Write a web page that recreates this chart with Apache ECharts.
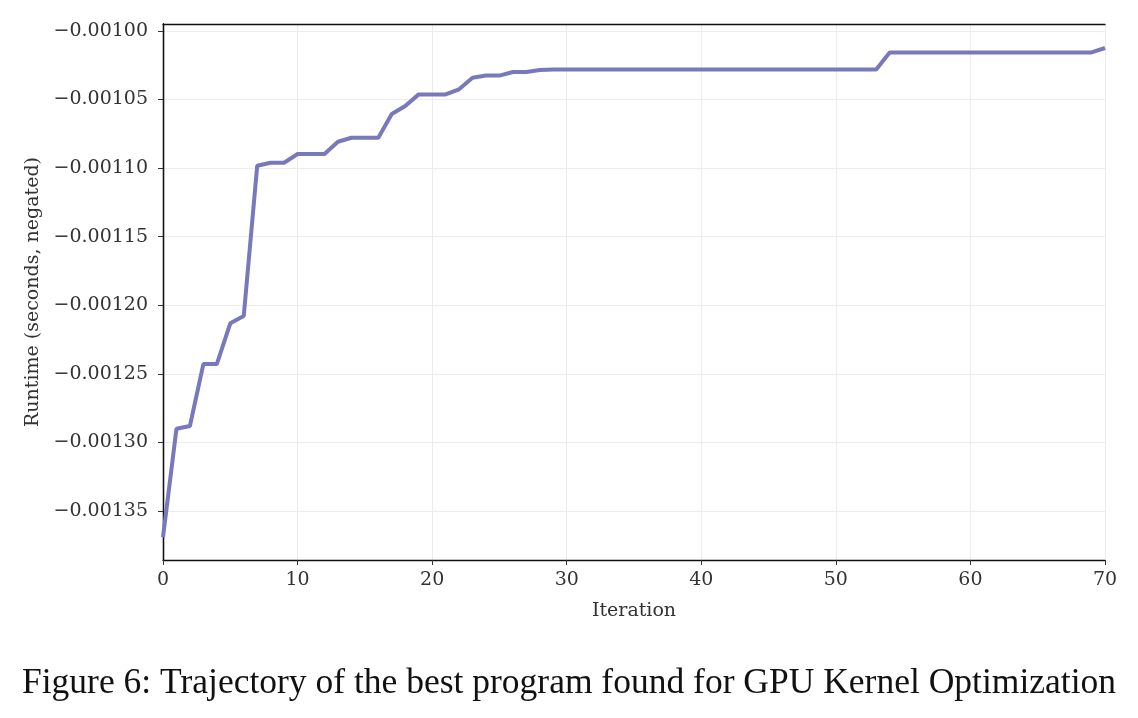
<!DOCTYPE html>
<html>
<head>
<meta charset="utf-8">
<script src="https://cdn.jsdelivr.net/npm/echarts@6/dist/echarts.min.js"></script>
<style>
  html, body { margin: 0; padding: 0; background: #fff; }
  #chart { width: 1138px; height: 718px; }
</style>
</head>
<body>
<div id="chart"></div>
<script>
// iteration index and best runtime found so far (seconds, negated)
const iterations = [];
for (let i = 0; i <= 70; i++) iterations.push(i);

const bestRuntime = [
  -0.0013692, -0.0012900, -0.0012880, -0.0012429, -0.0012429, -0.0012132, -0.0012079, -0.0010983,
  -0.0010961, -0.0010961, -0.0010898, -0.0010898, -0.0010898, -0.0010808, -0.0010779, -0.0010779,
  -0.0010779, -0.0010606, -0.0010548, -0.0010463, -0.0010463, -0.0010463, -0.0010426, -0.0010342,
  -0.0010326, -0.0010326, -0.0010300, -0.0010300, -0.0010286, -0.0010281, -0.0010281, -0.0010281,
  -0.0010281, -0.0010281, -0.0010281, -0.0010281, -0.0010281, -0.0010281, -0.0010281, -0.0010281,
  -0.0010281, -0.0010281, -0.0010281, -0.0010281, -0.0010281, -0.0010281, -0.0010281, -0.0010281,
  -0.0010281, -0.0010281, -0.0010281, -0.0010281, -0.0010281, -0.0010281, -0.0010157, -0.0010157,
  -0.0010157, -0.0010157, -0.0010157, -0.0010157, -0.0010157, -0.0010157, -0.0010157, -0.0010157,
  -0.0010157, -0.0010157, -0.0010157, -0.0010157, -0.0010157, -0.0010157, -0.0010125
];

const xTicks = [0, 10, 20, 30, 40, 50, 60, 70];
const yTicks = [-0.00135, -0.00130, -0.00125, -0.00120, -0.00115, -0.00110, -0.00105, -0.00100];
const yMin = -0.0013857;
const yMax = -0.0009950;

const caption = 'Figure 6: Trajectory of the best program found for GPU Kernel Optimization';

const serif = 'DejaVu Serif';
const fs = 19;
const points = iterations.map((it, i) => [it, bestRuntime[i]]);

// plain axis used only to draw the top / right frame lines
const frameAxis = {
  axisLine: { show: true, lineStyle: { color: '#111', width: 1.3 } },
  axisTick: { show: false },
  axisLabel: { show: false },
  splitLine: { show: false }
};

const chart = echarts.init(document.getElementById('chart'), null, { renderer: 'canvas' });

chart.setOption({
  animation: false,
  backgroundColor: '#ffffff',
  title: {
    text: caption,
    left: 'center',
    top: 661,
    textStyle: { fontFamily: 'Liberation Serif', fontSize: 35.5, fontWeight: 'normal', color: '#111' }
  },
  grid: {
    left: 163, right: 33, top: 24, bottom: 158,
    show: false,
    containLabel: false
  },
  xAxis: [{
    type: 'value',
    min: xTicks[0],
    max: xTicks[xTicks.length - 1],
    interval: 10,
    name: 'Iteration',
    nameLocation: 'middle',
    nameGap: 42,
    nameTextStyle: { fontFamily: serif, fontSize: fs, color: '#333' },
    axisLine: { show: true, lineStyle: { color: '#111', width: 1.3 } },
    axisTick: { show: true, length: 5, lineStyle: { color: '#333' } },
    axisLabel: { fontFamily: serif, fontSize: fs, color: '#333', margin: 11 },
    splitLine: { show: true, lineStyle: { color: '#ececec', width: 1 } }
  }, Object.assign({ type: 'value', position: 'top', min: xTicks[0], max: xTicks[xTicks.length - 1] }, frameAxis)],
  yAxis: [{
    type: 'value',
    min: yMin,
    max: yMax,
    splitNumber: 8,
    name: 'Runtime (seconds, negated)',
    nameLocation: 'middle',
    nameGap: 119,
    nameTextStyle: { fontFamily: serif, fontSize: fs, color: '#333' },
    axisLine: { show: true, lineStyle: { color: '#111', width: 1.3 } },
    axisTick: { show: true, length: 5, lineStyle: { color: '#333' } },
    axisLabel: {
      fontFamily: serif, fontSize: fs, color: '#333', margin: 15,
      showMinLabel: false, showMaxLabel: false,
      formatter: function (v) {
        const hit = yTicks.find(t => Math.abs(t - v) < 1e-9);
        if (hit === undefined) return '';
        return (hit < 0 ? '\u2212' : '') + Math.abs(hit).toFixed(5);
      }
    },
    splitLine: { show: true, lineStyle: { color: '#ececec', width: 1 } }
  }, Object.assign({ type: 'value', position: 'right', min: yMin, max: yMax }, frameAxis)],
  series: [{
    type: 'line',
    data: points,
    showSymbol: false,
    symbol: 'none',
    lineStyle: { color: '#7878bc', width: 4 },
    clip: true
  }]
});
</script>
</body>
</html>
